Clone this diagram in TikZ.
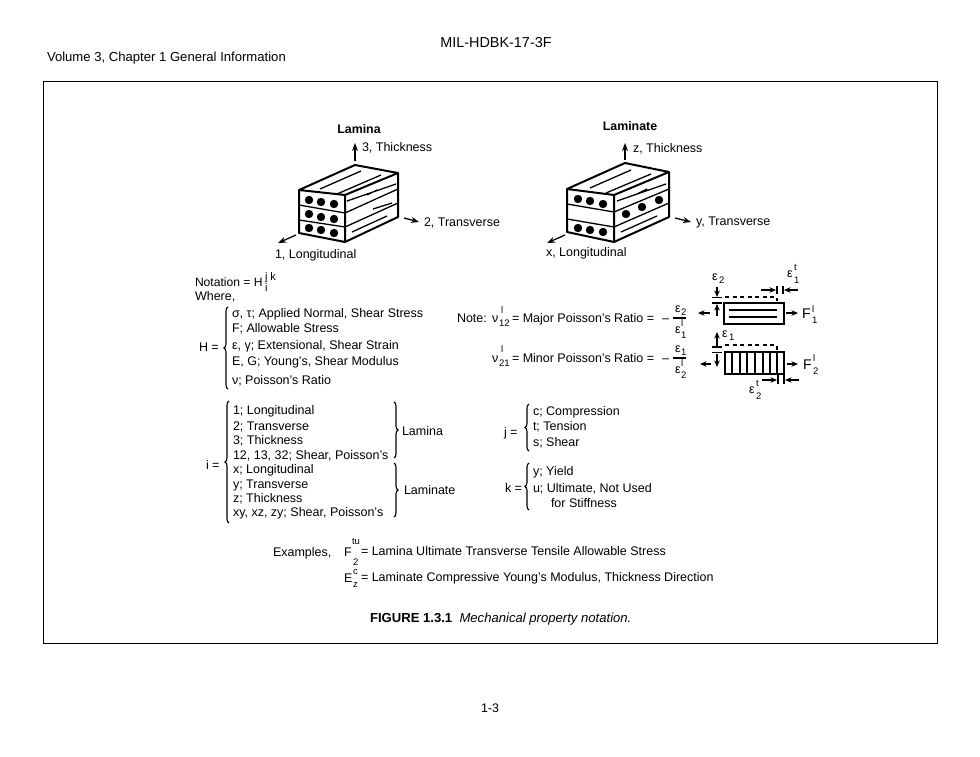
\documentclass[tikz,border=0pt]{standalone}
\usepackage{fontspec}
\setmainfont{Liberation Sans}
\usetikzlibrary{arrows.meta,decorations.pathreplacing}
\tikzset{
 t/.style={anchor=base west,inner sep=0pt,outer sep=0pt,text=black,font=\fontsize{12.5}{14}\selectfont},
 tc/.style={t,anchor=base},
 hd/.style={t,font=\fontsize{13.1}{15}\selectfont},
 sc/.style={t,font=\fontsize{9.5}{11}\selectfont},
 bld/.style={tc,font=\fontsize{12.4}{14}\selectfont\bfseries},
 ax/.style={line width=1.3pt,-{Stealth[length=8pt,width=6pt]},black},
 sarr/.style={line width=1.2pt,-{Stealth[length=6.5pt,width=5.5pt]},black},
 edge/.style={line width=2pt,line join=round,black},
 lay/.style={line width=1.3pt,black},
 thin/.style={line width=1.1pt,black},
 ball/.style={circle,fill=black,minimum size=8.4pt,inner sep=0pt},
 brc/.style={line width=1.1pt,black,decorate,decoration={brace,amplitude=4pt}},
 dsh/.style={line width=1.1pt,dash pattern=on 4pt off 3.5pt,black},
}
\begin{document}
\begin{tikzpicture}[x=1pt,y=-1pt]
\useasboundingbox (0,0) rectangle (980,757);
\fill[white] (0,0) rectangle (980,757);
% header
\node[hd,anchor=base,font=\fontsize{14.4}{16}\selectfont] (hdr) at (496,48) {MIL-HDBK-17-3F};
\node[hd] (vol) at (47,62) {Volume 3, Chapter 1  General Information};
\node[hd,anchor=base,font=\fontsize{12.4}{14}\selectfont] (pg) at (490,712) {1-3};
\draw[line width=1pt,black] (43.5,82) rectangle (937,643);
% --- Lamina block
\draw[edge] (299,190)--(355,165)--(398,173)--(345,195)--cycle;
\draw[edge] (299,190)--(299,233)--(345,242)--(345,195);
\draw[edge] (345,242)--(398,217)--(398,173);
\draw[lay] (299,205)--(345,213)--(398,189) (299,220)--(345,227)--(398,203);
\draw[lay] (320,189)--(361,171) (337,194)--(381,175) (347,201)--(396,184) (367,195)--(377,190) (373,209)--(392,203) (352,232)--(387,216);
\foreach \p in {(309,200),(321,202),(334,204),(309,214),(321,217),(334,219),(309,228),(321,230),(334,233)}
  \node[ball] at \p {};
\draw[ax] (355,161)--(355,143);
\draw[ax] (404,218)--(419,222);
\draw[ax] (296,235)--(278,243);
\node[bld] (lamT) at (359,134) {Lamina};
\node[t] (l3) at (362,152) {3, Thickness};
\node[t] (l2) at (424,226) {2, Transverse};
\node[t] (l1) at (275,258) {1, Longitudinal};
% --- Laminate block
\draw[edge] (567,189)--(625,163)--(669,172)--(614,195)--cycle;
\draw[edge] (567,189)--(567,232)--(614,242)--(614,195);
\draw[edge] (614,242)--(669,217)--(669,172);
\draw[lay] (567,204)--(614,212)--(669,189) (567,219)--(614,227)--(669,203);
\draw[lay] (590,188)--(631,170) (606,193)--(651,174) (617,201)--(666,184) (637,194)--(647,189) (621,232)--(657,216);
\foreach \p in {(578,199),(590,201),(603,204),(578,228),(590,230),(603,232),(626,214),(642,207),(659,200)}
  \node[ball] at \p {};
\draw[ax] (625,160)--(625,143);
\draw[ax] (675,218)--(691,222);
\draw[ax] (565,235)--(547,243);
\node[bld] (lamtT) at (630,131) {Laminate};
\node[t] (lz) at (633,153) {z, Thickness};
\node[t] (ly) at (696,225) {y, Transverse};
\node[t] (lx) at (546,256) {x, Longitudinal};
% --- Notation
\node[t,font=\fontsize{12.1}{14}\selectfont] (nota) at (195,286) {Notation = H};
\node[sc,font=\fontsize{11}{12}\selectfont] (njk) at (265,280) {j k};
\node[sc,font=\fontsize{11}{12}\selectfont] (ni) at (265,291) {i};
\node[t] (wh) at (195,300) {Where,};
\node[t] (h1) at (232,317) {σ, τ; Applied Normal, Shear Stress};
\node[t] (h2) at (232,332) {F; Allowable Stress};
\node[t] (h3) at (232,349) {ε, γ; Extensional, Shear Strain};
\node[t] (h4) at (232,365) {E, G; Young's, Shear Modulus};
\node[t] (h5) at (232,384) {ν; Poisson's Ratio};
\node[t] (heq) at (199,351) {H =};
\draw[brc] (228,389)--(228,307);
% i list
\node[t] (i1) at (233,414) {1; Longitudinal};
\node[t] (i2) at (233,430) {2; Transverse};
\node[t] (i3) at (233,444) {3; Thickness};
\node[t] (i4) at (233,459) {12, 13, 32; Shear, Poisson's};
\node[t] (i5) at (233,473) {x; Longitudinal};
\node[t] (i6) at (233,488) {y; Transverse};
\node[t] (i7) at (233,502) {z; Thickness};
\node[t] (i8) at (233,516) {xy, xz, zy; Shear, Poisson's};
\node[t] (ieq) at (206,469) {i =};
\draw[brc] (229,523)--(229,401);
\draw[brc] (394,402)--(394,458);
\draw[brc] (394,463)--(394,517);
\node[t] (lamL) at (402,435) {Lamina};
\node[t] (lamtL) at (404,494) {Laminate};
% j, k
\node[t] (jeq) at (504,436) {j =};
\node[t] (j1) at (533,415) {c; Compression};
\node[t] (j2) at (533,430) {t; Tension};
\node[t] (j3) at (533,446) {s; Shear};
\draw[brc] (529,451)--(529,404);
\node[t] (keq) at (505,492) {k =};
\node[t] (k1) at (533,475) {y; Yield};
\node[t] (k2) at (533,492) {u; Ultimate, Not Used};
\node[t] (k3) at (551,507) {for Stiffness};
\draw[brc] (529,510)--(529,463);
% examples
\node[t] (ex) at (273,556) {Examples,};
\node[t] (exF) at (344,556) {F};
\node[sc] (exFt) at (352,544) {tu};
\node[sc] (exFb) at (353,565) {2};
\node[t] (ex1) at (361,555) {= Lamina Ultimate Transverse Tensile Allowable Stress};
\node[t] (exE) at (344,582) {E};
\node[sc] (exEt) at (353,574) {c};
\node[sc] (exEb) at (353,587) {z};
\node[t] (ex2) at (361,581) {= Laminate Compressive Young's Modulus, Thickness Direction};
\node[hd] (cap) at (370,622) {\bfseries FIGURE 1.3.1\ \ \itshape\mdseries Mechanical property notation.};
% Poisson equations
\node[t] (note) at (457,322) {Note:};
\node[t] (nu1) at (492,322) {ν};
\node[sc] (nu1t) at (501,313) {l};
\node[sc] (nu1b) at (499,326) {12};
\node[t] (maj) at (512,322) {= Major Poisson's Ratio =};
\node[t] (m1) at (662,322) {–};
\node[t] (f1a) at (675,312) {ε};
\node[sc] (f1as) at (681,315) {2};
\node[t] (f1b) at (675,333) {ε};
\node[sc] (f1bt) at (681,326) {l};
\node[sc] (f1bb) at (681,338) {1};
\draw[thin] (673,318)--(686,318);
\node[t] (nu2) at (492,362) {ν};
\node[sc] (nu2t) at (501,352) {l};
\node[sc] (nu2b) at (499,366) {21};
\node[t] (mnr) at (512,362) {= Minor Poisson's Ratio =};
\node[t] (m2) at (662,362) {–};
\node[t] (f2a) at (675,352) {ε};
\node[sc] (f2as) at (681,355) {1};
\node[t] (f2b) at (675,373) {ε};
\node[sc] (f2bt) at (681,366) {l};
\node[sc] (f2bb) at (681,378) {2};
\draw[thin] (673,358)--(686,358);
% upper coupon
\draw[line width=1.2pt,black] (724,303) rectangle (784,324);
\draw[lay] (729,310)--(777,310) (729,317)--(777,317);
\draw[dsh] (725,297)--(777,297);
\draw[thin] (777,298)--(777,301);
\draw[sarr] (786,313)--(798,313);
\draw[sarr] (710,313)--(698,313);
\draw[thin] (712,297.5)--(722,297.5) (712,303)--(722,303);
\draw[sarr] (717,287)--(717,297);
\draw[sarr] (717,316)--(717,304);
\draw[thin] (777,286)--(777,294) (783,286)--(783,294);
\draw[sarr] (761,290)--(776,290);
\draw[sarr] (798,290)--(784,290);
\node[t] (e2) at (712,280) {ε};
\node[sc] (e2s) at (719,283) {2};
\node[t] (e1t) at (787,277) {ε};
\node[sc] (e1ts) at (794,270) {t};
\node[sc] (e1tb) at (794,283) {1};
\node[t,font=\fontsize{14}{16}\selectfont] (F1) at (802,318) {F};
\node[sc] (F1t) at (812,312) {l};
\node[sc] (F1b) at (812,323) {1};
% lower coupon
\draw[line width=1.2pt,black] (725,352) rectangle (784,374);
\foreach \x in {732,740,747,755,763,770,777}
  \draw[lay] (\x,352)--(\x,374);
\draw[dsh] (725,345)--(777,345);
\draw[thin] (777,346)--(777,350);
\draw[sarr] (787,364)--(798,364);
\draw[sarr] (711,364)--(700,364);
\draw[thin] (712,347)--(722,347) (712,352.5)--(722,352.5);
\draw[sarr] (717,346)--(717,332);
\draw[sarr] (717,354)--(717,367);
\draw[thin] (778,374)--(778,384) (784,374)--(784,384);
\draw[sarr] (762,380)--(777,380);
\draw[sarr] (799,380)--(785,380);
\node[t] (e1) at (722,337) {ε};
\node[sc] (e1s) at (729,340) {1};
\node[t] (e2t) at (749,393) {ε};
\node[sc] (e2ts) at (756,386) {t};
\node[sc] (e2tb) at (756,399) {2};
\node[t,font=\fontsize{14}{16}\selectfont] (F2) at (803,369) {F};
\node[sc] (F2t) at (813,361) {l};
\node[sc] (F2b) at (813,374) {2};
\end{tikzpicture}
\end{document}
